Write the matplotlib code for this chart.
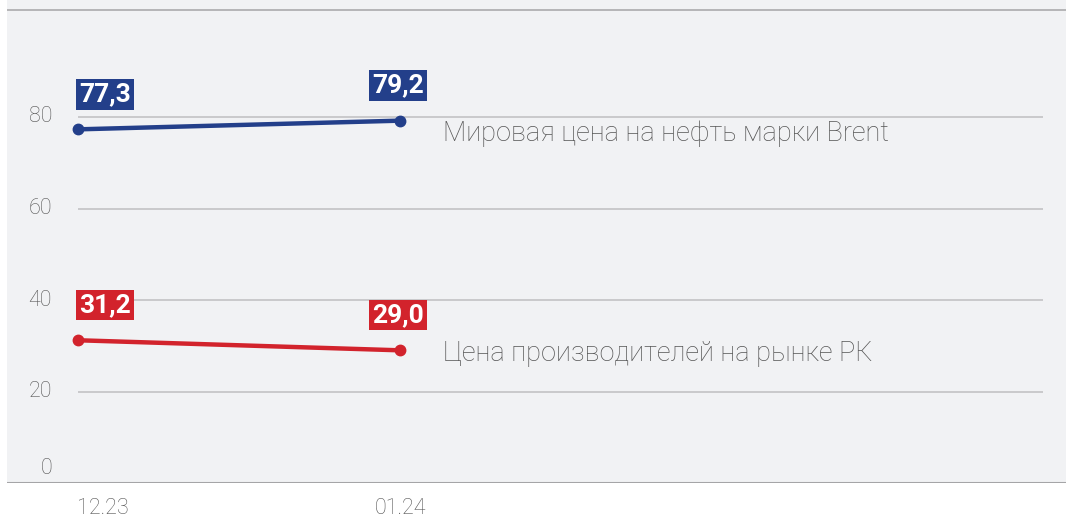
import matplotlib
matplotlib.use("Agg")
import matplotlib.pyplot as plt

# data
periods = ["12.23", "01.24"]
brent = [77.3, 79.2]
producer = [31.2, 29.0]
series_names = ["Мировая цена на нефть марки Brent", "Цена производителей на рынке РК"]
y_ticks = [0, 20, 40, 60, 80]

BLUE = "#233f8a"
RED = "#d2232c"
BG = "#f1f2f4"
GRID = "#c9c9cb"
TXT = "#555555"

plt.rcParams["font.family"] = ["Roboto", "DejaVu Sans"]

W, H = 1066, 517
fig = plt.figure(figsize=(W / 100, H / 100), dpi=100)
fig.patch.set_facecolor("white")

# axes covers the grey panel (pixels x 7..1066, y 0..483)
ax = fig.add_axes([7 / W, (H - 483) / H, (W - 7) / W, 483 / H])
ax.set_facecolor(BG)
px_per_unit = 91.5 / 20
x_unit = 322.0
ax.set_xlim((7 - 78) / x_unit, (W - 78) / x_unit)
ax.set_ylim(0, 483 / px_per_unit)
for s in ax.spines.values():
    s.set_visible(False)
ax.set_xticks([])
ax.set_yticks([])

x = list(range(len(periods)))
grid_end = (1043 - 78) / x_unit

# grid lines
for v in y_ticks[1:]:
    ax.plot([0, grid_end], [v, v], color=GRID, lw=1.4, zorder=1, solid_capstyle="butt")
ax.axhline(0, color="#a5a5a7", lw=2.2, zorder=2)
ax.axhline((483 - 10) / px_per_unit, color="#b5b5b7", lw=1.4, zorder=2)

# y labels
for v in y_ticks:
    dy = 14 if v == 0 else 0
    ax.annotate(str(v), xy=(-0.081, v), xytext=(0, dy), textcoords="offset pixels",
                ha="right", va="center", fontsize=15.5, color=TXT, fontweight="light",
                annotation_clip=False)

# x labels
for i, lab in enumerate(periods):
    ax.annotate(lab, xy=(i, 0), xytext=(0 if i else -1, -25), textcoords="offset pixels",
                ha="left" if i == 0 else "center", va="center", fontsize=15.5,
                color=TXT, fontweight="light", annotation_clip=False)

# series
name_dy = [-20, -11]
for k, (vals, col) in enumerate([(brent, BLUE), (producer, RED)]):
    ax.plot(x, vals, color=col, lw=3.2, marker="o", markersize=7.5, zorder=4,
            solid_capstyle="round")
    for i, v in enumerate(vals):
        ax.annotate(f"{v:.1f}".replace(".", ","), xy=(i, v),
                    xytext=(1 if i == 0 else -2, 23), textcoords="offset pixels",
                    ha="left" if i == 0 else "center", va="bottom",
                    fontsize=19, fontweight="bold", color="white",
                    bbox=dict(boxstyle="square,pad=0.12", fc=col, ec="none"), zorder=5)
    ax.annotate(series_names[k], xy=(x[-1], vals[-1]), xytext=(43, name_dy[k]),
                textcoords="offset pixels", ha="left", va="baseline",
                fontsize=19.5, color=TXT, fontweight="light")

fig.savefig("out.png", dpi=100, facecolor="white")
